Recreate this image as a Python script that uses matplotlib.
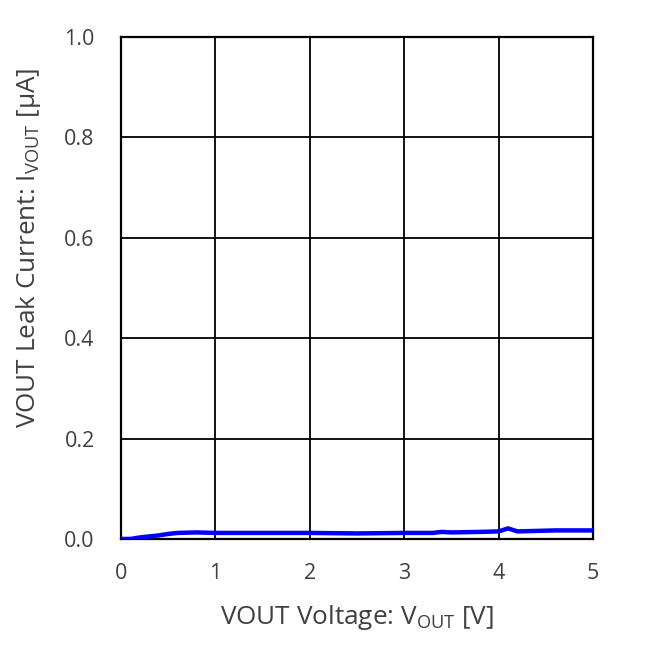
import matplotlib
matplotlib.use("Agg")
import matplotlib.pyplot as plt

# VOUT leak current vs VOUT voltage
vout = [0.0, 0.1, 0.2, 0.3, 0.4, 0.5, 0.6, 0.8, 1.0, 1.2, 1.5, 2.0, 2.5, 3.0,
        3.3, 3.4, 3.5, 3.8, 4.0, 4.1, 4.2, 4.4, 4.6, 5.0]
ileak = [0.0, 0.0, 0.003, 0.005, 0.007, 0.010, 0.012, 0.013, 0.012, 0.012, 0.012,
         0.012, 0.011, 0.012, 0.012, 0.014, 0.013, 0.014, 0.015, 0.021, 0.015,
         0.016, 0.017, 0.017]

xticks = [0, 1, 2, 3, 4, 5]
yticks = [0.0, 0.2, 0.4, 0.6, 0.8, 1.0]

plt.rcParams['font.family'] = ['Open Sans', 'DejaVu Sans']
txt = "#404040"

fig = plt.figure(figsize=(6.56, 6.72), dpi=100)
ax = fig.add_axes([0.1845, 0.198, 0.7195, 0.747])

ax.plot(vout, ileak, color="#0000ff", lw=3.2, solid_capstyle="butt", zorder=3)

ax.set_xlim(0, 5)
ax.set_ylim(0, 1.0)
ax.set_xticks(xticks)
ax.set_yticks(yticks)
ax.set_xticklabels([str(t) for t in xticks])
ax.set_yticklabels([f"{t:.1f}" for t in yticks])
ax.grid(True, color="black", lw=1.3)
ax.tick_params(length=0, labelsize=15.5, colors=txt)
ax.tick_params(axis="y", pad=19)
ax.tick_params(axis="x", pad=17)
for s in ax.spines.values():
    s.set_color("black")
    s.set_linewidth(1.6)

ax.set_xlabel("VOUT Voltage: V$_{\\mathregular{OUT}}$ [V]", fontsize=18.8, color=txt, labelpad=14)
ax.set_ylabel("VOUT Leak Current: I$_{\\mathregular{VOUT}}$ [µA]", fontsize=18.8, color=txt)
ax.yaxis.set_label_coords(-0.165, 0.58)

fig.savefig("out.png", dpi=100)
